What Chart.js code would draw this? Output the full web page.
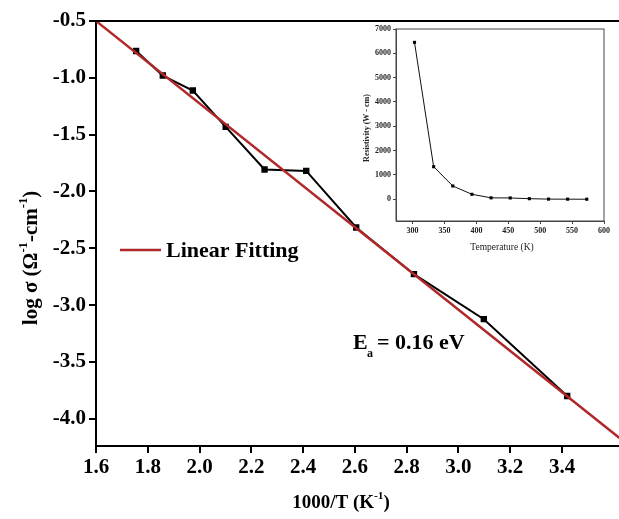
<!DOCTYPE html>
<html>
<head>
<meta charset="utf-8">
<script src="https://cdn.jsdelivr.net/npm/chart.js@4/dist/chart.umd.min.js"></script>
<style>
  html, body { margin: 0; padding: 0; background: #fff; overflow: hidden; }
  #wrap { position: relative; width: 619px; height: 519px; overflow: hidden; }
  #main { position: absolute; left: 0; top: 0; }
  #inset { position: absolute; left: 350px; top: 22px; }
</style>
</head>
<body>
<div id="wrap">
  <canvas id="main" width="624" height="519"></canvas>
  <canvas id="inset" width="262" height="240"></canvas>
</div>
<script>
// Main plot data: log conductivity vs 1000/T
const invT = [1.755, 1.858, 1.974, 2.101, 2.251, 2.412, 2.605, 2.828, 3.098, 3.42];
const logSigma = [-0.764, -0.98, -1.112, -1.432, -1.807, -1.819, -2.317, -2.728, -3.124, -3.80];
const fitX = [1.6, 3.622];
const fitY = [-0.5, -4.17];
const xTicks = [1.6, 1.8, 2.0, 2.2, 2.4, 2.6, 2.8, 3.0, 3.2, 3.4];
const yTicks = [-0.5, -1.0, -1.5, -2.0, -2.5, -3.0, -3.5, -4.0];

// Inset data: resistivity vs temperature
const tempK = [303, 333, 363, 393, 423, 453, 483, 513, 543, 573];
const resistivity = [6450, 1340, 547, 205, 60, 55, 25, 8, 5, 3];
const insetXTicks = [300, 350, 400, 450, 500, 550, 600];
const insetYTicks = [0, 1000, 2000, 3000, 4000, 5000, 6000, 7000];

const SERIF = "'Liberation Serif', 'Times New Roman', serif";
const FIT_RED = '#b0282a';

// Draws the frame lines that are not axes
const framePlugin = {
  id: 'frame',
  afterDraw(chart, args, opts) {
    const { ctx, chartArea } = chart;
    ctx.save();
    ctx.strokeStyle = opts.color || '#000';
    ctx.lineWidth = opts.width || 1;
    if (opts.box) {
      ctx.strokeRect(chartArea.left, chartArea.top, chartArea.width, chartArea.height);
    } else {
      ctx.beginPath();
      ctx.moveTo(chartArea.left, chartArea.top);
      ctx.lineTo(chartArea.right, chartArea.top);
      ctx.stroke();
    }
    ctx.restore();
  }
};

// text made of normal and superscript pieces, centred on x
function richText(ctx, parts, x, y, size) {
  let total = 0;
  parts.forEach(p => {
    ctx.font = 'bold ' + (p.sup ? size * 0.6 : size) + 'px ' + SERIF;
    p.w = ctx.measureText(p.t).width;
    total += p.w;
  });
  let cx = x - total / 2;
  ctx.textAlign = 'left';
  parts.forEach(p => {
    ctx.font = 'bold ' + (p.sup ? size * 0.6 : size) + 'px ' + SERIF;
    ctx.fillText(p.t, cx, p.sup ? y - size * 0.38 : y);
    cx += p.w;
  });
}

// Axis titles, legend and annotation for the main plot
const mainText = {
  id: 'mainText',
  afterDraw(chart) {
    const ctx = chart.ctx;
    ctx.save();
    ctx.fillStyle = '#000';
    ctx.textBaseline = 'middle';

    // y title
    ctx.save();
    ctx.translate(32, 258);
    ctx.rotate(-Math.PI / 2);
    richText(ctx, [
      { t: 'log σ (Ω' }, { t: '-1', sup: true }, { t: '-cm' }, { t: '-1', sup: true }, { t: ')' }
    ], 0, 0, 21);
    ctx.restore();

    // x title
    richText(ctx, [{ t: '1000/T (K' }, { t: '-1', sup: true }, { t: ')' }], 341, 503, 19);

    // legend
    ctx.strokeStyle = FIT_RED;
    ctx.lineWidth = 2.5;
    ctx.beginPath();
    ctx.moveTo(120, 250);
    ctx.lineTo(161, 250);
    ctx.stroke();
    ctx.textAlign = 'left';
    ctx.font = 'bold 22px ' + SERIF;
    ctx.fillText('Linear Fitting', 166, 251);

    // activation energy
    ctx.font = 'bold 22px ' + SERIF;
    ctx.fillText('E', 353, 343);
    ctx.font = 'bold 12px ' + SERIF;
    ctx.fillText('a', 367, 354);
    ctx.font = 'bold 22px ' + SERIF;
    ctx.fillText('= 0.16 eV', 377, 343);
    ctx.restore();
  }
};

const insetText = {
  id: 'insetText',
  afterDraw(chart) {
    const ctx = chart.ctx;
    ctx.save();
    ctx.fillStyle = '#222';
    ctx.textBaseline = 'middle';
    ctx.textAlign = 'center';
    ctx.save();
    ctx.translate(17, 106);
    ctx.rotate(-Math.PI / 2);
    ctx.font = 'bold 8px ' + SERIF;
    ctx.fillText('Resistivity (W - cm)', 0, 0);
    ctx.restore();
    ctx.font = '9.5px ' + SERIF;
    ctx.fillText('Temperature (K)', 152, 225);
    ctx.restore();
  }
};

// Main chart
new Chart(document.getElementById('main'), {
  type: 'scatter',
  data: {
    datasets: [
      {
        data: fitX.map((x, i) => ({ x: x, y: fitY[i] })),
        showLine: true,
        borderColor: FIT_RED,
        borderWidth: 2.5,
        pointRadius: 0
      },
      {
        data: invT.map((x, i) => ({ x: x, y: logSigma[i] })),
        showLine: true,
        borderColor: '#000',
        borderWidth: 2,
        backgroundColor: '#000',
        pointStyle: 'rect',
        pointRadius: 4.5,
        pointBorderWidth: 0
      }
    ]
  },
  options: {
    responsive: false,
    animation: false,
    layout: { padding: { top: 21, right: 0, left: 0, bottom: 0 } },
    plugins: {
      legend: { display: false },
      tooltip: { enabled: false },
      frame: { color: '#000', width: 2 }
    },
    scales: {
      x: {
        type: 'linear',
        min: 1.6,
        max: 3.622,
        afterFit: (s) => { s.height = 73; },
        afterBuildTicks: (s) => { s.ticks = xTicks.map(v => ({ value: v })); },
        border: { color: '#000', width: 2 },
        grid: { drawOnChartArea: false, color: '#000', lineWidth: 2, tickLength: 7 },
        ticks: {
          color: '#000',
          font: { family: SERIF, size: 21, weight: 'bold' },
          padding: 2,
          maxRotation: 0,
          autoSkip: false,
          callback: (v) => v.toFixed(1)
        }
      },
      y: {
        type: 'linear',
        min: -4.24,
        max: -0.5,
        afterFit: (s) => { s.width = 96; },
        afterBuildTicks: (s) => { s.ticks = yTicks.map(v => ({ value: v })); },
        border: { color: '#000', width: 2 },
        grid: { drawOnChartArea: false, color: '#000', lineWidth: 2, tickLength: 7 },
        ticks: {
          color: '#000',
          font: { family: SERIF, size: 21, weight: 'bold' },
          padding: 3,
          autoSkip: false,
          callback: (v) => v.toFixed(1)
        }
      }
    }
  },
  plugins: [framePlugin, mainText]
});

// Inset chart
new Chart(document.getElementById('inset'), {
  type: 'scatter',
  data: {
    datasets: [
      {
        data: tempK.map((x, i) => ({ x: x, y: resistivity[i] })),
        showLine: true,
        borderColor: '#111',
        borderWidth: 1,
        backgroundColor: '#000',
        pointStyle: 'rect',
        pointRadius: 2.2,
        pointBorderWidth: 0
      }
    ]
  },
  options: {
    responsive: false,
    animation: false,
    layout: { padding: { top: 7, right: 5, left: 0, bottom: 0 } },
    plugins: {
      legend: { display: false },
      tooltip: { enabled: false },
      frame: { box: true, color: '#444', width: 1 }
    },
    scales: {
      x: {
        type: 'linear',
        min: 274,
        max: 600,
        afterFit: (s) => { s.height = 41; },
        afterBuildTicks: (s) => { s.ticks = insetXTicks.map(v => ({ value: v })); },
        border: { color: '#444', width: 1 },
        grid: { drawOnChartArea: false, color: '#444', lineWidth: 1, tickLength: 3 },
        ticks: {
          color: '#222',
          font: { family: SERIF, size: 8, weight: 'bold' },
          padding: 2,
          maxRotation: 0,
          autoSkip: false,
          callback: (v) => String(v)
        }
      },
      y: {
        type: 'linear',
        min: -892,
        max: 7000,
        afterFit: (s) => { s.width = 46; },
        afterBuildTicks: (s) => { s.ticks = insetYTicks.map(v => ({ value: v })); },
        border: { color: '#444', width: 1 },
        grid: { drawOnChartArea: false, color: '#444', lineWidth: 1, tickLength: 3 },
        ticks: {
          color: '#222',
          font: { family: SERIF, size: 8, weight: 'bold' },
          padding: 2,
          autoSkip: false,
          callback: (v) => String(v)
        }
      }
    }
  },
  plugins: [framePlugin, insetText]
});
</script>
</body>
</html>
